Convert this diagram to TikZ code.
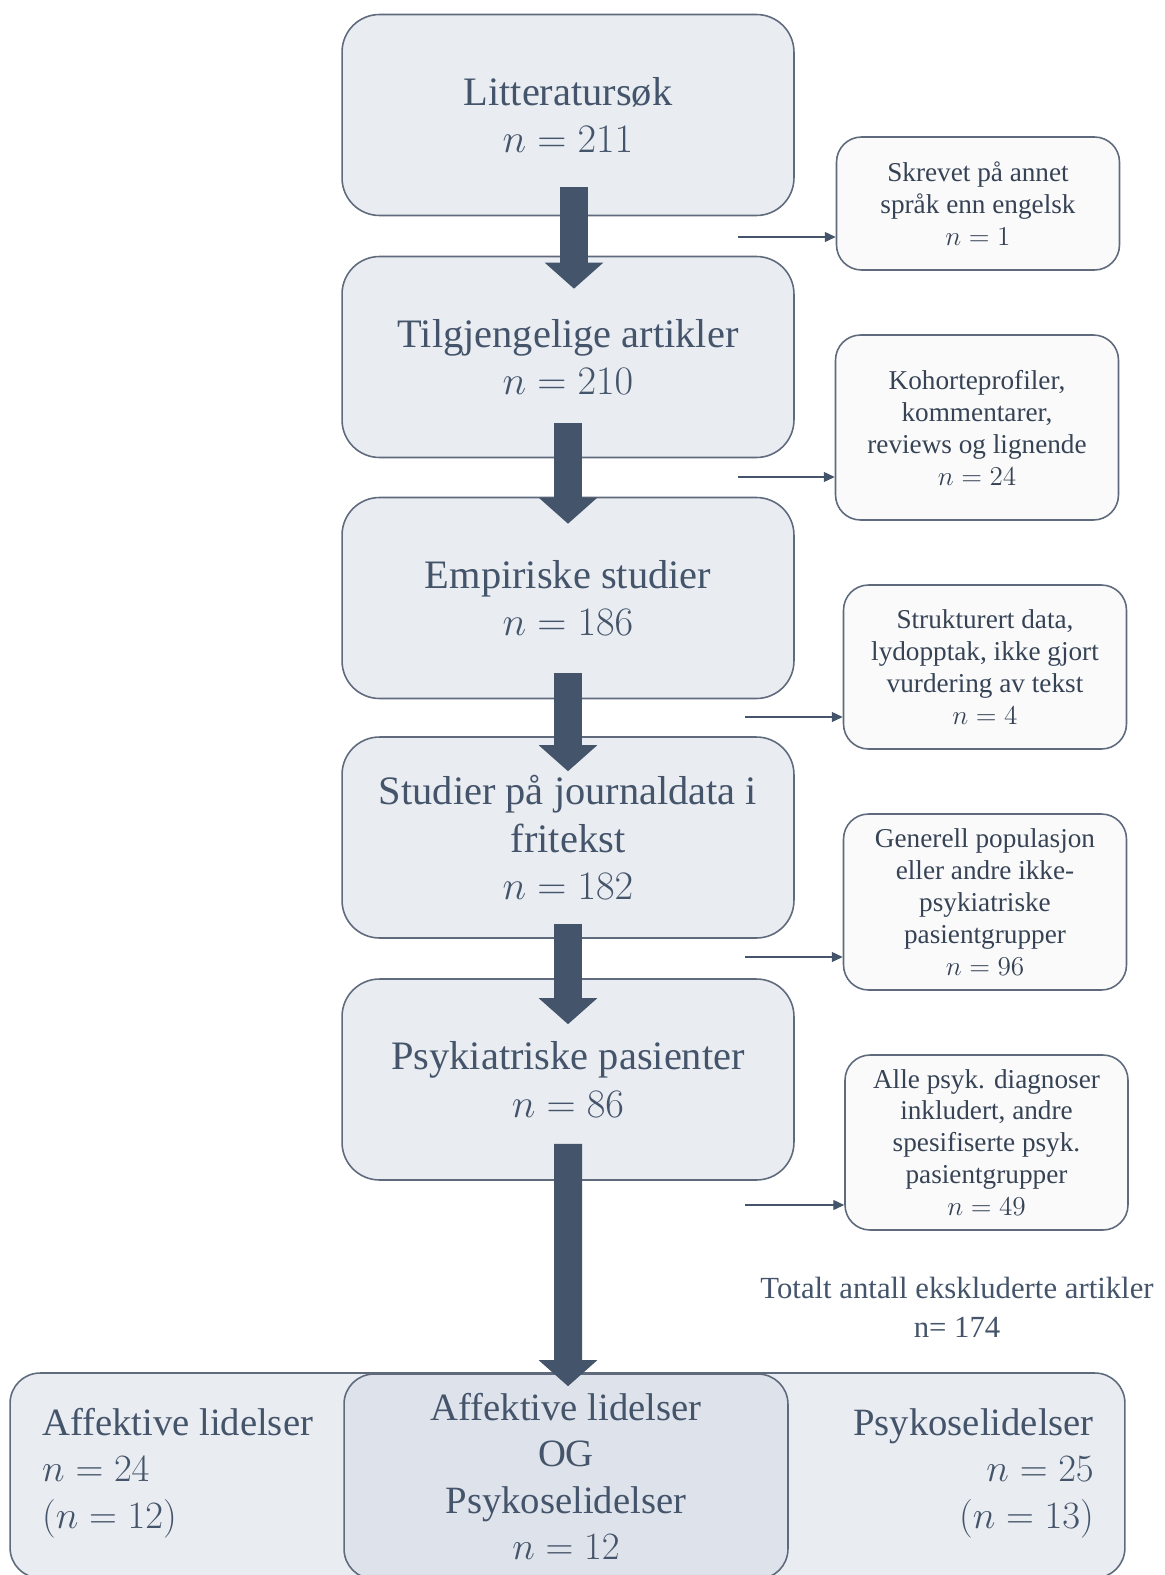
\RequirePackage{fix-cm}
\documentclass[tikz,border=0pt]{standalone}
\usepackage{fontspec}
\setmainfont{Liberation Serif}
\usepackage{tikz}
\usetikzlibrary{arrows.meta, positioning}
\definecolor{slatetext}{HTML}{44546A}
\definecolor{slateline}{HTML}{5F6B7C}
\definecolor{boxfill}{HTML}{E9ECF1}
\definecolor{boxfilldark}{HTML}{DEE2EA}
\definecolor{sidefill}{HTML}{FAFAFB}
\tikzset{
  mainbox/.style={draw=slateline, line width=0.9pt, fill=boxfill, rounded corners=0.75cm,
    minimum width=9.04cm, minimum height=4.02cm, align=center, text=slatetext,
    font=\fontsize{23}{27}\selectfont},
  sidebox/.style={draw=slateline, line width=0.9pt, fill=sidefill, rounded corners=0.5cm,
    minimum width=5.66cm, align=center, text=slatetext!80!black,
    font=\fontsize{15.5}{18.2}\selectfont},
  bigarrow/.style={draw=slatetext, line width=0.56cm,
    -{Triangle[width=1.14cm, length=0.52cm]}},
  thinarrow/.style={draw=slatetext, line width=0.8pt,
    -{Triangle[width=0.2cm, length=0.22cm]}},
}
\begin{document}
\begin{tikzpicture}[x=0.02cm, y=-0.02cm]
  \useasboundingbox (0,0) rectangle (1165,1575);

  % main flow
  \node[mainbox] (litt) at (568,115) {Litteratursøk\\$n = 211$};
  \node[mainbox] (tilg) at (568,357) {Tilgjengelige artikler\\$n = 210$};
  \node[mainbox] (emp) at (568,598) {Empiriske studier\\$n = 186$};
  \node[mainbox] (journ) at (568,837.5) {Studier på journaldata i\\fritekst\\$n = 182$};
  \node[mainbox] (psyk) at (568,1079.5) {Psykiatriske pasienter\\$n = 86$};

  % excluded
  \node[sidebox, minimum height=2.66cm] (ex1) at (978,203.5) {Skrevet på annet\\språk enn engelsk\\$n = 1$};
  \node[sidebox, minimum height=3.7cm] (ex2) at (977,427.5) {Kohorteprofiler,\\kommentarer,\\reviews og lignende\\$n = 24$};
  \node[sidebox, minimum height=3.28cm] (ex3) at (985,667) {Strukturert data,\\lydopptak, ikke gjort\\vurdering av tekst\\$n = 4$};
  \node[sidebox, minimum height=3.52cm] (ex4) at (985,902) {Generell populasjon\\eller andre ikke-\\psykiatriske\\pasientgrupper\\$n = 96$};
  \node[sidebox, minimum height=3.5cm] (ex5) at (986.5,1142.5) {Alle psyk. diagnoser\\inkludert, andre\\spesifiserte psyk.\\pasientgrupper\\$n = 49$};

  \node[text=slatetext, align=center, font=\fontsize{17.5}{22}\selectfont] (total) at (957,1307)
    {Totalt antall ekskluderte artikler\\n= 174};

  % result groups
  \node[mainbox, minimum width=22.3cm, minimum height=4.1cm, rounded corners=0.6cm] (grp) at (567.5,1475.5) {};
  \node[mainbox, fill=boxfilldark, minimum width=8.88cm, minimum height=4.1cm, rounded corners=0.6cm,
    font=\fontsize{22}{26.5}\selectfont] (both) at (566,1476.5)
    {Affektive lidelser\\OG\\Psykoselidelser\\$n = 12$};
  \node[anchor=west, align=left, text=slatetext, font=\fontsize{22}{26.5}\selectfont] (aff) at (36,1473)
    {Affektive lidelser\\$n = 24$\\$(n = 12)$};
  \node[anchor=east, align=right, text=slatetext, font=\fontsize{22}{26.5}\selectfont] (psy) at (1100,1473)
    {Psykoselidelser\\$n = 25$\\$(n = 13)$};

  % big arrows
  \draw[bigarrow] ([xshift=0.12cm, yshift=0.58cm]litt.south) -- ([xshift=0.12cm, yshift=-0.66cm]tilg.north);
  \draw[bigarrow] ([yshift=0.7cm]tilg.south) -- ([yshift=-0.54cm]emp.north);
  \draw[bigarrow] ([yshift=0.52cm]emp.south) -- ([yshift=-0.7cm]journ.north);
  \draw[bigarrow] ([yshift=0.3cm]journ.south) -- ([yshift=-0.92cm]psyk.north);
  \draw[bigarrow] ([yshift=0.74cm]psyk.south) -- ([xshift=0.04cm, yshift=-0.26cm]both.north);

  % thin arrows
  \coordinate (c1) at (738,237);
  \coordinate (c2) at (738,477);
  \coordinate (c3) at (745,717);
  \coordinate (c4) at (745,957);
  \coordinate (c5) at (745,1205);
  \draw[thinarrow] (c1) -- (c1 -| ex1.west);
  \draw[thinarrow] (c2) -- (c2 -| ex2.west);
  \draw[thinarrow] (c3) -- (c3 -| ex3.west);
  \draw[thinarrow] (c4) -- (c4 -| ex4.west);
  \draw[thinarrow] (c5) -- (c5 -| ex5.west);
\end{tikzpicture}
\end{document}
